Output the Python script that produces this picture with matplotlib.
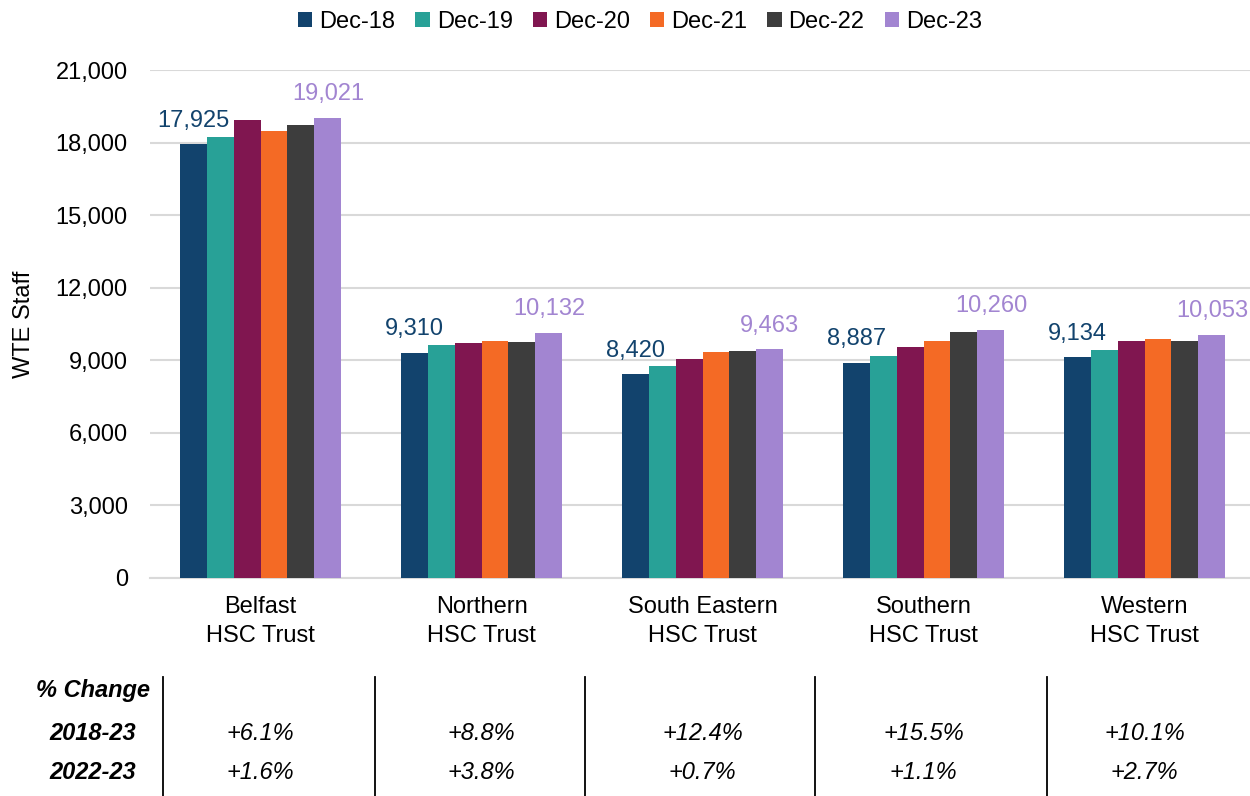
import matplotlib.pyplot as plt
import matplotlib.transforms as mtransforms
import numpy as np

plt.rcParams['font.family'] = ['Liberation Sans', 'DejaVu Sans']

trusts = ["Belfast\nHSC Trust", "Northern\nHSC Trust", "South Eastern\nHSC Trust",
          "Southern\nHSC Trust", "Western\nHSC Trust"]
years = ["Dec-18", "Dec-19", "Dec-20", "Dec-21", "Dec-22", "Dec-23"]
colors = ["#12436D", "#28A197", "#801650", "#F46A25", "#3D3D3D", "#A285D1"]

dec18 = [17925, 9310, 8420, 8887, 9134]
dec19 = [18213, 9633, 8752, 9165, 9413]
dec20 = [18936, 9715, 9041, 9550, 9812]
dec21 = [18468, 9784, 9344, 9812, 9894]
dec22 = [18721, 9761, 9397, 10148, 9789]
dec23 = [19021, 10132, 9463, 10260, 10053]
series = [dec18, dec19, dec20, dec21, dec22, dec23]

change_1823 = ["+6.1%", "+8.8%", "+12.4%", "+15.5%", "+10.1%"]
change_2223 = ["+1.6%", "+3.8%", "+0.7%", "+1.1%", "+2.7%"]

fs = 17
fig = plt.figure(figsize=(12.5, 7.96), dpi=100)
ax = fig.add_axes([0.12, 0.274, 0.884, 0.638])

x = np.arange(len(trusts))
w = 0.122
for i, (vals, year, c) in enumerate(zip(series, years, colors)):
    xs = x + (i - 2.5) * w
    ax.bar(xs, vals, width=w, color=c, label=year, zorder=3)
    # labels only on first and last year
    if i == 0 or i == len(series) - 1:
        for xi, v in zip(xs, vals):
            ax.annotate(f"{v:,}", (xi, v), xytext=(0, 9), textcoords="offset points",
                        ha="center", va="bottom", color=c, fontsize=fs)

ax.set_xlim(-0.5, 4.5)
ax.set_ylim(0, 21000)
ax.set_yticks(range(0, 21001, 3000))
ax.set_yticklabels([f"{v:,}" for v in range(0, 21001, 3000)], fontsize=fs)
ax.set_xticks(x)
ax.set_xticklabels(trusts, fontsize=fs, linespacing=1.4)
ax.tick_params(axis="both", length=0)
ax.tick_params(axis="y", pad=16)
ax.tick_params(axis="x", pad=13)
ax.grid(axis="y", color="#D9D9D9", linewidth=1.5, zorder=0)
for s in ["top", "right", "left"]:
    ax.spines[s].set_visible(False)
ax.spines["bottom"].set_color("#D9D9D9")
ax.spines["bottom"].set_linewidth(1.5)
ax.set_ylabel("WTE Staff", fontsize=fs)
ax.yaxis.set_label_coords(-0.104, 0.5)

fig.legend(loc="center", bbox_to_anchor=(0.512, 0.972), ncol=6, frameon=False,
           fontsize=fs, handlelength=0.6, handleheight=0.6, handletextpad=0.3,
           columnspacing=0.85)

# % change table below the chart
tr = mtransforms.blended_transform_factory(ax.transData, fig.transFigure)
row_y = [0.133, 0.079, 0.029]
for yy, txt in zip(row_y, ["% Change", "2018-23", "2022-23"]):
    fig.text(0.074, yy, txt, fontsize=fs, fontweight="bold", fontstyle="italic",
             ha="center", va="center")
for xi, a, b in zip(x, change_1823, change_2223):
    ax.text(xi, row_y[1], a, transform=tr, fontsize=fs, fontstyle="italic",
            ha="center", va="center")
    ax.text(xi, row_y[2], b, transform=tr, fontsize=fs, fontstyle="italic",
            ha="center", va="center")
for xl in [-0.44, 0.52, 1.47, 2.51, 3.56]:
    ax.plot([xl, xl], [0.149, 0.0], transform=tr, color="black", linewidth=1.3,
            clip_on=False)

fig.savefig("out.png", dpi=100)
